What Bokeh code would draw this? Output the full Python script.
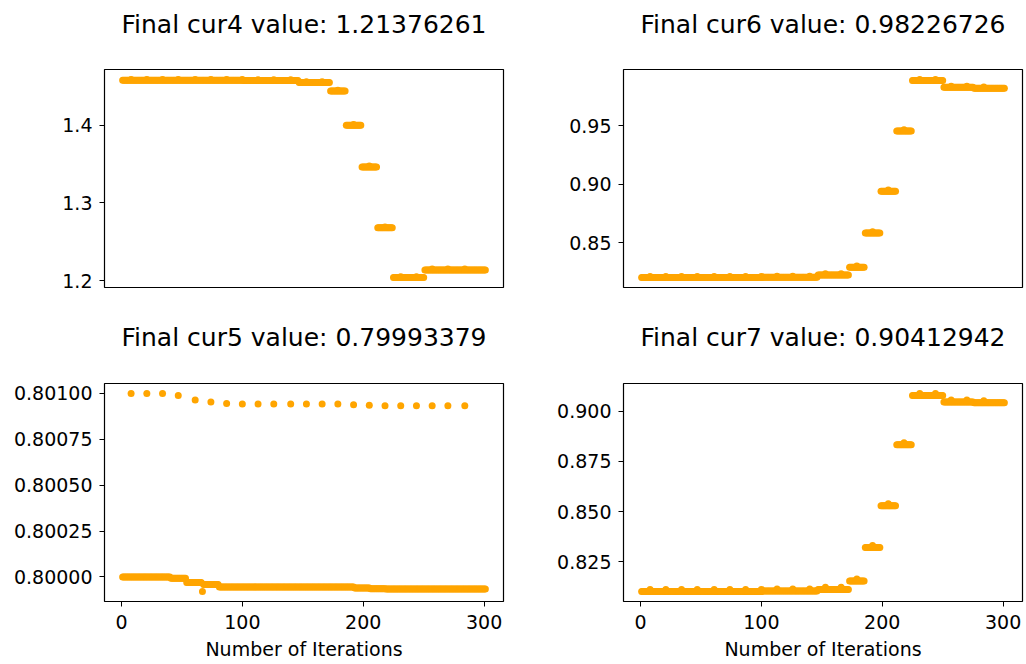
import numpy as np
from bokeh.plotting import figure
from bokeh.layouts import column, row
from bokeh.models import Range1d, FixedTicker, Label
from bokeh.embed import file_html
from bokeh.resources import INLINE

# ---- data -------------------------------------------------------------
iterations = np.arange(1, 302)          # iteration index 1..301

# plateau start iteration and plateau value for each parameter
cur4_final = 1.21376261
cur4_starts = [1, 101, 147, 173, 186, 199, 212, 225, 251]
cur4_levels = [1.4580, 1.4575, 1.4550, 1.4441, 1.4000, 1.3464, 1.2681, 1.2039, cur4_final]

cur6_final = 0.98226726
cur6_starts = [1, 101, 147, 173, 186, 199, 212, 225, 251, 276]
cur6_levels = [0.8201, 0.8203, 0.8224, 0.8290, 0.8583, 0.8940, 0.9457, 0.9888, 0.9830, cur6_final]

cur5_final = 0.79993379
cur5_starts = [1, 41, 54, 67, 68, 81, 193, 206, 219]
cur5_levels = [0.800000, 0.799993, 0.799969, 0.799920, 0.799958, 0.799945, 0.799940, 0.799936, cur5_final]

cur7_final = 0.90412942
cur7_starts = [1, 101, 147, 173, 186, 199, 212, 225, 251, 276]
cur7_levels = [0.8102, 0.8105, 0.8113, 0.8155, 0.8321, 0.8529, 0.8832, 0.9078, 0.9045, cur7_final]

# perturbed (probe) evaluations
probe_iters = [8, 21, 34, 47, 61, 74, 87, 100, 113, 126, 140, 153, 166, 179, 192,
               205, 218, 231, 244, 257, 270, 284]
cur4_probe = [1.4590, 1.4590, 1.4590, 1.4590, 1.4590, 1.4590, 1.4590, 1.4590, 1.4585,
              1.4585, 1.4585, 1.4560, 1.4560, 1.4451, 1.4010, 1.3474, 1.2691, 1.2049,
              1.2049, 1.2148, 1.2148, 1.2148]
cur6_probe = [0.8211, 0.8211, 0.8211, 0.8211, 0.8211, 0.8211, 0.8211, 0.8211, 0.8213,
              0.8213, 0.8213, 0.8234, 0.8234, 0.8300, 0.8593, 0.8950, 0.9467, 0.9898,
              0.9898, 0.9840, 0.9840, 0.9833]
cur5_probe = [0.801000, 0.801000, 0.801000, 0.800989, 0.800964, 0.800953, 0.800945,
              0.800942, 0.800942, 0.800942, 0.800942, 0.800942, 0.800942, 0.800942,
              0.800938, 0.800935, 0.800933, 0.800933, 0.800933, 0.800933, 0.800933,
              0.800933]
cur7_probe = [0.8112, 0.8112, 0.8112, 0.8112, 0.8112, 0.8112, 0.8112, 0.8112, 0.8115,
              0.8115, 0.8115, 0.8123, 0.8123, 0.8165, 0.8331, 0.8539, 0.8842, 0.9088,
              0.9088, 0.9055, 0.9055, 0.9051]

# axis ticks and their labels
x_ticks = [0, 100, 200, 300]
x_tick_labels = ["0", "100", "200", "300"]
cur4_ticks = [1.2, 1.3, 1.4]
cur4_tick_labels = ["1.2", "1.3", "1.4"]
cur6_ticks = [0.85, 0.90, 0.95]
cur6_tick_labels = ["0.85", "0.90", "0.95"]
cur5_ticks = [0.80000, 0.80025, 0.80050, 0.80075, 0.80100]
cur5_tick_labels = ["0.80000", "0.80025", "0.80050", "0.80075", "0.80100"]
cur7_ticks = [0.825, 0.850, 0.875, 0.900]
cur7_tick_labels = ["0.825", "0.850", "0.875", "0.900"]

x_label = "Number of Iterations"

ORANGE = "#FFA500"
FONT = "DejaVu Sans"
FRAME_W, FRAME_H = 399, 218
TITLE_BASELINE = 24     # title baseline offset within the heading strip


def expand(starts, levels):
    counts = np.diff(list(starts) + [len(iterations) + 1])
    return np.repeat(levels, counts)


def padded(lo, hi, frac=0.05):
    span = hi - lo
    return Range1d(lo - frac * span, hi + frac * span)


def heading(text, left, right, height):
    """Strip above a panel that carries its centred title."""
    h = figure(width=left + FRAME_W + right, height=height,
               output_backend="svg", toolbar_location=None,
               x_axis_location=None, y_axis_location=None,
               min_border_left=left, min_border_right=right,
               min_border_top=0, min_border_bottom=0)
    h.title.text = ""
    h.title.standoff = 0
    h.grid.visible = False
    h.outline_line_color = None
    h.border_fill_color = "white"
    h.background_fill_color = "white"
    h.add_layout(Label(x=FRAME_W / 2, y=height - TITLE_BASELINE,
                       x_units="screen", y_units="screen", text=text,
                       text_align="center", text_baseline="alphabetic",
                       text_font=FONT, text_font_size="25px", text_color="black"))
    return h


def panel(name, final, starts, levels, probe, ticks, tick_labels,
          left, right, head_h, bottom, show_x):
    ys = expand(starts, levels)
    all_y = np.concatenate([ys, probe])
    p = figure(width=left + FRAME_W + right, height=1 + FRAME_H + bottom,
               x_range=padded(iterations.min(), iterations.max()),
               y_range=padded(all_y.min(), all_y.max()),
               output_backend="svg", toolbar_location=None,
               min_border_left=left, min_border_right=right,
               min_border_top=1, min_border_bottom=bottom)
    p.title.text = ""
    p.title.standoff = 0

    p.scatter(iterations, ys, size=7, color=ORANGE, line_color=None)
    p.scatter(probe_iters, probe, size=7, color=ORANGE, line_color=None)

    p.grid.visible = False
    p.outline_line_color = "black"
    p.outline_line_width = 1.2
    p.background_fill_color = "white"
    p.border_fill_color = "white"

    for ax in (p.xaxis[0], p.yaxis[0]):
        ax.axis_line_color = None
        ax.major_tick_line_color = "black"
        ax.major_tick_line_width = 1
        ax.major_tick_out = 5
        ax.major_tick_in = 0
        ax.minor_tick_line_color = None
        ax.major_label_text_font = FONT
        ax.major_label_text_font_size = "19px"
        ax.major_label_text_color = "black"

    p.yaxis[0].ticker = FixedTicker(ticks=ticks)
    p.yaxis[0].major_label_overrides = dict(zip(ticks, tick_labels))
    p.yaxis[0].major_label_standoff = 7

    if show_x:
        p.xaxis[0].ticker = FixedTicker(ticks=x_ticks)
        p.xaxis[0].major_label_overrides = dict(zip(x_ticks, x_tick_labels))
        p.xaxis[0].major_label_standoff = 8
        p.xaxis[0].axis_label = x_label
        p.xaxis[0].axis_label_text_font = FONT
        p.xaxis[0].axis_label_text_font_size = "19px"
        p.xaxis[0].axis_label_text_font_style = "normal"
        p.xaxis[0].axis_label_text_color = "black"
        p.xaxis[0].axis_label_standoff = 6
    else:
        p.xaxis[0].visible = False

    head = heading(f"Final {name} value: {final:.8f}", left, right, head_h)
    return column(head, p, spacing=0)


p4 = panel("cur4", cur4_final, cur4_starts, cur4_levels, cur4_probe, cur4_ticks,
           cur4_tick_labels, 104, 17, 68, 26, False)
p6 = panel("cur6", cur6_final, cur6_starts, cur6_levels, cur6_probe, cur6_ticks,
           cur6_tick_labels, 103, 4, 68, 26, False)
p5 = panel("cur5", cur5_final, cur5_starts, cur5_levels, cur5_probe, cur5_ticks,
           cur5_tick_labels, 104, 17, 69, 63, True)
p7 = panel("cur7", cur7_final, cur7_starts, cur7_levels, cur7_probe, cur7_ticks,
           cur7_tick_labels, 103, 4, 69, 63, True)

layout = column(row(p4, p6, spacing=0), row(p5, p7, spacing=0), spacing=0)

open("out.html", "w").write(file_html(layout, INLINE))
